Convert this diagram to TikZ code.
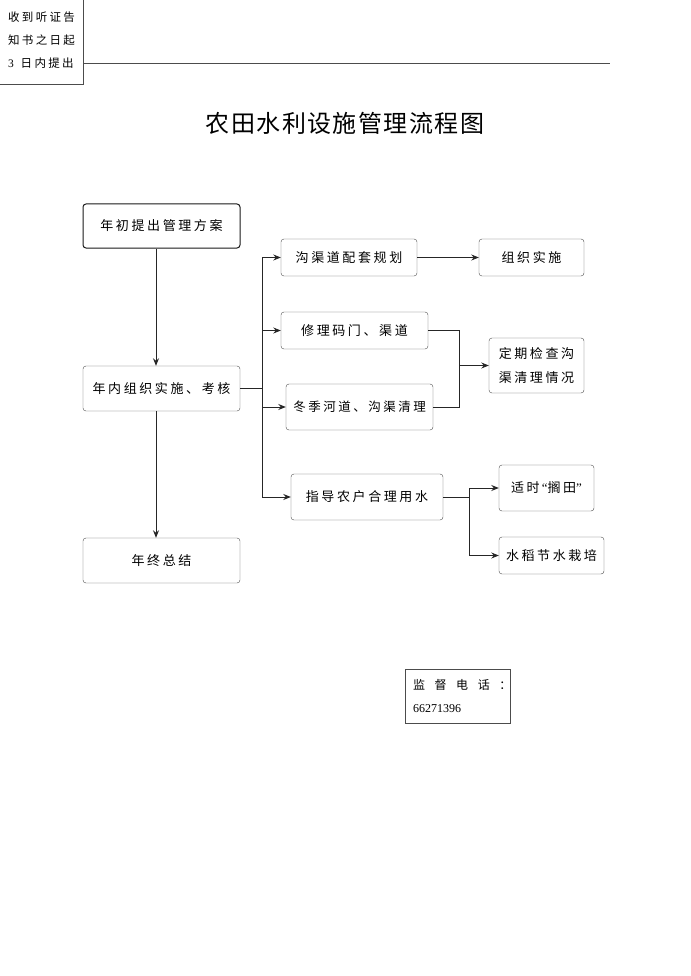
\documentclass[tikz,border=0pt]{standalone}
\usepackage{fontspec}
\setmainfont{Noto Sans CJK SC}
\newfontfamily\timesfont{Liberation Serif}
\newfontfamily\boxfont[LetterSpace=20]{Noto Sans CJK SC}
\newfontfamily\titlefont[LetterSpace=6]{Noto Sans CJK SC}
\newfontfamily\widefont[LetterSpace=80]{Noto Sans CJK SC}
\usetikzlibrary{arrows.meta}

\tikzset{
  box/.style={draw=black!70, rounded corners=3pt, inner sep=0pt,
    font=\boxfont\fontsize{13}{15}\selectfont},
  flow/.style={draw=black!85, line width=0.8pt},
  arr/.style={flow, -{Stealth[length=7.5pt,width=6pt]}}
}

\begin{document}
\begin{tikzpicture}[x=1pt,y=-1pt]
\useasboundingbox (0,0) rectangle (690,976);

% header
\node[anchor=west, inner sep=0pt, align=left, font=\boxfont\fontsize{11.5}{23}\selectfont] (note) at (8,40)
  {收到听证告\\知书之日起\\{\timesfont 3}\, 日内提出};
\draw[black!70, line width=0.8pt] (0,84) -- (83,84) -- (83,0);
\draw[black!70, line width=0.8pt] (83,63) -- (610,63);

\node[font=\titlefont\fontsize{24}{28}\selectfont] (title) at (345,123) {农田水利设施管理流程图};

% left column
\node[box, draw=black!90, line width=1pt, minimum width=157pt, minimum height=44pt] (A) at (161.5,226) {年初提出管理方案};
\node[box, minimum width=157pt, minimum height=45pt] (B) at (161.5,388.5) {年内组织实施、考核};
\node[box, minimum width=157pt, minimum height=45pt] (C) at (161.5,560.5) {年终总结};

% middle column
\node[box, minimum width=136pt, minimum height=37pt] (D) at (349,257.5) {沟渠道配套规划};
\node[box, minimum width=147pt, minimum height=37pt] (F) at (354.5,330.5) {修理码门、渠道};
\node[box, minimum width=147pt, minimum height=46pt, font=\boxfont\fontsize{12.5}{15}\selectfont] (G) at (359.5,407) {冬季河道、沟渠清理};
\node[box, minimum width=152pt, minimum height=46pt] (I) at (367,497) {指导农户合理用水};

% right column
\node[box, minimum width=105pt, minimum height=37pt] (E) at (531.5,257.5) {组织实施};
\node[box, minimum width=95pt, minimum height=55pt, align=left, font=\boxfont\fontsize{13}{24}\selectfont] (H) at (536.5,365.5) {定期检查沟\\渠清理情况};
\node[box, minimum width=95pt, minimum height=46pt] (J) at (546.5,488) {适时{\timesfont\,“}搁田{\timesfont ”}};
\node[box, minimum width=105pt, minimum height=37pt] (K) at (551.5,555.5) {水稻节水栽培};

% phone
\node[draw=black!70, minimum width=105pt, minimum height=54pt, text width=89pt, align=left, inner sep=0pt,
  font=\fontsize{12}{23}\selectfont] (L) at (457.5,696)
  {{\widefont 监督电话：}\\{\timesfont 66271396}};

\coordinate (split) at (262,388.5);
\coordinate (merge) at (459,365.5);
\coordinate (fork) at (469,497);

\path[arr] ([xshift=-5.5pt]A.south) -- ([xshift=-5.5pt]B.north);
\path[arr] ([xshift=-5.5pt]B.south) -- ([xshift=-5.5pt]C.north);
\path[flow] (B) -- (split);
\path[arr] (split) |- (D);
\path[arr] (split) |- (F);
\path[arr] (split) |- (G);
\path[arr] (split) |- (I);
\path[arr] (D) -- (E);
\path[flow] (F) -| (merge);
\path[flow] (G) -| (merge);
\path[arr] (merge) -- (H);
\path[flow] (I) -- (fork);
\path[arr] (fork) |- (J);
\path[arr] (fork) |- (K);
\end{tikzpicture}
\end{document}
